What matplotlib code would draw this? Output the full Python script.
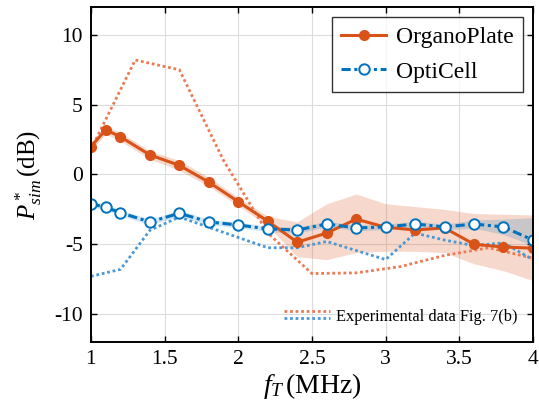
import numpy as np
import matplotlib
matplotlib.use('Agg')
import matplotlib.pyplot as plt
from matplotlib.lines import Line2D
from matplotlib.legend_handler import HandlerBase

plt.rcParams['font.family'] = 'Liberation Serif'
plt.rcParams['mathtext.fontset'] = 'custom'
plt.rcParams['mathtext.rm'] = 'Liberation Serif'
plt.rcParams['mathtext.it'] = 'Liberation Serif:italic'
plt.rcParams['axes.unicode_minus'] = False

# simulated transmission, mean and band edges (dB)
freq = [1.0, 1.1, 1.2, 1.4, 1.6, 1.8, 2.0, 2.2, 2.4, 2.6, 2.8, 3.0, 3.2, 3.4, 3.6, 3.8, 4.0]
organo_mean = [2.0, 3.2, 2.7, 1.4, 0.65, -0.55, -1.95, -3.35, -4.85, -4.2, -3.2, -3.78, -3.98, -3.83, -5.0, -5.2, -5.28]
organo_lo = [1.7, 2.9, 2.4, 1.1, 0.3, -0.85, -2.25, -3.7, -5.9, -6.1, -5.6, -5.5, -5.5, -5.6, -6.4, -6.9, -7.6]
organo_hi = [2.3, 3.5, 3.0, 1.7, 1.0, -0.2, -1.65, -3.0, -3.4, -2.1, -1.4, -2.1, -2.3, -2.5, -2.8, -2.85, -2.9]
opti_mean = [-2.1, -2.35, -2.74, -3.4, -2.78, -3.4, -3.62, -3.9, -3.98, -3.55, -3.83, -3.76, -3.55, -3.76, -3.55, -3.76, -4.7]
opti_lo = [-2.3, -2.55, -2.95, -3.6, -3.0, -3.6, -3.82, -4.1, -4.2, -3.75, -4.03, -3.96, -3.75, -3.96, -3.85, -4.3, -5.1]
opti_hi = [-1.9, -2.15, -2.55, -3.2, -2.58, -3.2, -3.42, -3.7, -3.78, -3.35, -3.63, -3.56, -3.35, -3.56, -3.25, -3.2, -3.1]

# experimental data, Fig. 7(b)
exp_organo_f = [1.0, 1.3, 1.6, 1.9, 2.2, 2.5, 2.8, 3.1, 3.4, 3.7, 4.0]
exp_organo = [1.8, 8.2, 7.5, 1.0, -4.2, -7.1, -7.05, -6.6, -5.8, -5.25, -6.0]
exp_opti_f = [1.0, 1.2, 1.4, 1.6, 2.2, 2.4, 2.6, 3.0, 3.2, 3.4, 3.6, 3.8, 4.0]
exp_opti = [-7.3, -6.8, -4.0, -3.05, -5.25, -5.25, -4.8, -6.1, -4.2, -4.7, -5.1, -4.9, -6.1]

orange = '#D95319'
blue = '#0072BD'
orange_exp = '#EB7B55'
blue_exp = '#4A98D6'
dots = (0, (1, 1))


class TwoLineHandler(HandlerBase):
    # two stacked dotted lines for the experimental legend entry
    def create_artists(self, legend, orig_handle, xdescent, ydescent,
                       width, height, fontsize, trans):
        arts = []
        for frac, col in zip([0.9, 0.25], [orange_exp, blue_exp]):
            y = -ydescent + frac * height
            ln = Line2D([-xdescent, -xdescent + width], [y, y], color=col,
                        linestyle=dots, linewidth=2.0, transform=trans)
            arts.append(ln)
        return arts


fig = plt.figure(figsize=(5.39, 4.11), dpi=100)
ax = fig.add_axes([0.1688, 0.168, 0.82, 0.815])

ax.fill_between(freq, organo_lo, organo_hi, color=orange, alpha=0.22, linewidth=0)
ax.fill_between(freq, opti_lo, opti_hi, color=blue, alpha=0.18, linewidth=0)

ax.plot(exp_organo_f, exp_organo, color=orange_exp, linestyle=dots, linewidth=2.0)
ax.plot(exp_opti_f, exp_opti, color=blue_exp, linestyle=dots, linewidth=2.0)

l1, = ax.plot(freq, organo_mean, color=orange, linewidth=2.2, marker='o',
              markersize=7, markerfacecolor=orange, markeredgecolor=orange,
              label='OrganoPlate')
l2, = ax.plot(freq, opti_mean, color=blue, linewidth=2.2, linestyle=(0, (3, 1.2, 1, 1.2)),
              marker='o', markersize=7.5, markerfacecolor='white',
              markeredgecolor=blue, markeredgewidth=1.4, label='OptiCell')

ax.set_xlim(1, 4)
ax.set_ylim(-12, 12)
ax.set_xticks([1, 1.5, 2, 2.5, 3, 3.5, 4])
ax.set_xticklabels(['1', '1.5', '2', '2.5', '3', '3.5', '4'])
ax.set_yticks([-10, -5, 0, 5, 10])
ax.grid(True, color='#dcdcdc', linewidth=0.8)
ax.set_axisbelow(True)
ax.tick_params(direction='in', top=True, right=True, length=4, width=1.0,
               labelsize=15.5, pad=6)
for sp in ax.spines.values():
    sp.set_linewidth(1.4)

ax.set_xlabel(r'$f_T\,$(MHz)', fontsize=20, labelpad=1)
ax.set_ylabel(r'$P^*_{sim}\,$(dB)', fontsize=18, labelpad=7)

leg1 = ax.legend(handles=[l1, l2], loc='upper right', fontsize=17,
                 frameon=True, fancybox=False, edgecolor='black',
                 borderpad=0.4, handlelength=1.9, labelspacing=0.55,
                 handletextpad=0.4, borderaxespad=0, bbox_to_anchor=(0.977, 0.97))
leg1.get_frame().set_linewidth(1.0)
ax.add_artist(leg1)

ax.legend(handles=[Line2D([], [])], labels=['Experimental data Fig. 7(b)'],
          handler_map={Line2D: TwoLineHandler()}, loc='lower right',
          fontsize=11.8, frameon=False, handlelength=2.8, handletextpad=0.4,
          borderaxespad=0, borderpad=0, bbox_to_anchor=(0.966, 0.05))

fig.savefig('out.png', dpi=100)
